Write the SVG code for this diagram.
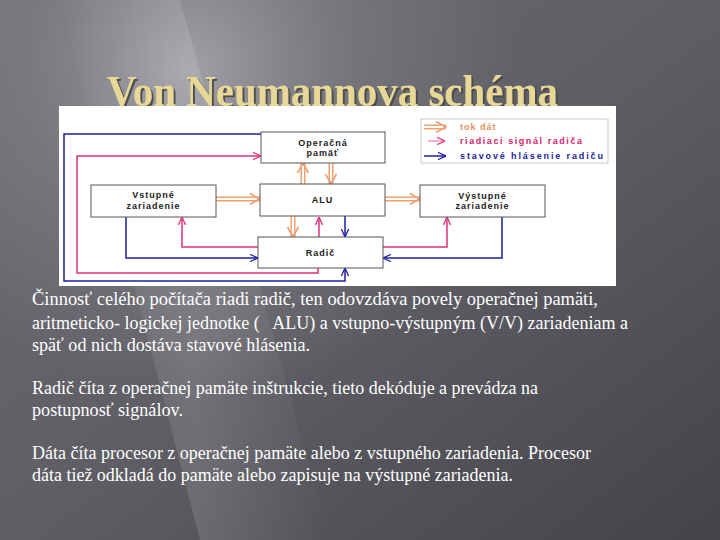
<svg xmlns="http://www.w3.org/2000/svg" width="720" height="540" viewBox="0 0 720 540">
<defs>
<linearGradient id="bg" x1="0" y1="0" x2="1" y2="1">
<stop offset="0" stop-color="#6c6c72"/>
<stop offset="0.5" stop-color="#5e5e64"/>
<stop offset="1" stop-color="#434349"/>
</linearGradient>
<radialGradient id="glow" cx="190" cy="70" r="330" gradientUnits="userSpaceOnUse">
<stop offset="0" stop-color="#b4b4ba" stop-opacity="0.75"/>
<stop offset="0.5" stop-color="#9a9aa0" stop-opacity="0.3"/>
<stop offset="1" stop-color="#9a9aa0" stop-opacity="0"/>
</radialGradient>
<linearGradient id="streak" x1="0" y1="0" x2="1" y2="0">
<stop offset="0" stop-color="#ffffff" stop-opacity="0"/>
<stop offset="0.5" stop-color="#ffffff" stop-opacity="0.12"/>
<stop offset="1" stop-color="#ffffff" stop-opacity="0"/>
</linearGradient>
<filter id="shadow" x="-5%" y="-20%" width="110%" height="140%">
<feDropShadow dx="2" dy="2" stdDeviation="0.6" flood-color="#4a4a44" flood-opacity="0.9"/>
</filter>
<marker id="ap" viewBox="0 0 10 10" refX="10" refY="5" markerWidth="8" markerHeight="8" orient="auto" markerUnits="userSpaceOnUse">
<path d="M0,0.5 L10,5 L0,9.5" fill="none" stroke="#e0307a" stroke-width="1.6"/>
</marker>
<marker id="ab" viewBox="0 0 10 10" refX="10" refY="5" markerWidth="8" markerHeight="8" orient="auto" markerUnits="userSpaceOnUse">
<path d="M0,0.5 L10,5 L0,9.5" fill="none" stroke="#1c1ca8" stroke-width="1.6"/>
</marker>
<marker id="ao" viewBox="0 0 12 12" refX="11" refY="6" markerWidth="12" markerHeight="12" orient="auto" markerUnits="userSpaceOnUse">
<path d="M1,0.5 L11,6 L1,11.5" fill="none" stroke="#f0a070" stroke-width="1.6"/>
</marker>
</defs>
<style>
.box{fill:#ffffff;stroke:#555;stroke-width:1}
.bt{font-family:"Liberation Sans",Arial,sans-serif;font-weight:bold;font-size:9px;letter-spacing:1px;fill:#222;text-anchor:middle}
.pk{fill:none;stroke:#e0307a;stroke-width:1.5;marker-end:url(#ap)}
.bl{fill:none;stroke:#1c1ca8;stroke-width:1.5;marker-end:url(#ab)}
.or{fill:none;stroke:#f0a070;stroke-width:5;marker-end:url(#ao)}
.ow{fill:none;stroke:#ffffff;stroke-width:2}
.lt{font-family:"Liberation Sans",Arial,sans-serif;font-weight:bold;font-size:9px;letter-spacing:1px}
.body{font-family:"Liberation Serif","Times New Roman",serif;font-size:18px;fill:#ffffff;white-space:pre}
</style>
<rect x="0" y="0" width="720" height="540" fill="url(#bg)"/>
<rect x="0" y="0" width="720" height="540" fill="url(#glow)"/>
<polygon points="60,0 180,0 330,540 200,540" fill="url(#streak)"/>
<g id="title">
<text x="107" y="106" font-family="Liberation Serif,'Times New Roman',serif" font-weight="bold" font-size="44" fill="#e8d898" filter="url(#shadow)" textLength="451" lengthAdjust="spacingAndGlyphs">Von Neumannova schéma</text>
</g>
<rect x="59" y="106" width="557" height="180" fill="#ffffff"/>
<g id="legend">
<rect x="421" y="119" width="187" height="44" fill="#ffffff" stroke="#c8c8d0" stroke-width="1"/>
<line x1="424" y1="127" x2="446" y2="127" class="or" stroke-width="4"/>
<line x1="424" y1="127" x2="443" y2="127" class="ow" stroke-width="1.5"/>
<line x1="428" y1="141" x2="445" y2="141" stroke="#f080b0" stroke-width="1.2" marker-end="url(#ap)"/>
<line x1="424" y1="156" x2="446" y2="156" class="bl"/>
<text x="460" y="130" class="lt" fill="#e89060">tok dát</text>
<text x="460" y="144" class="lt" fill="#d8206e" textLength="123">riadiaci signál radiča</text>
<text x="460" y="159" class="lt" fill="#1c1ca0" textLength="144">stavové hlásenie radiču</text>
</g>
<g id="connectors">
<polyline class="pk" points="258,247 182,247 182,217"/>
<polyline class="pk" points="383,247 447,247 447,217"/>
<polyline class="pk" points="319,237 319,217"/>
<polyline class="pk" points="318,268 318,273 77,273 77,156 261,156"/>
<polyline class="bl" points="126,217 126,258 258,258"/>
<polyline class="bl" points="502,217 502,258 383,258"/>
<polyline class="bl" points="345,216 345,237"/>
<polyline class="bl" points="261,134 64,134 64,281 345,281 345,268"/>
<line class="or" x1="303" y1="184" x2="303" y2="163"/>
<line class="ow" x1="303" y1="184" x2="303" y2="166"/>
<line class="or" x1="331" y1="163" x2="331" y2="184"/>
<line class="ow" x1="331" y1="163" x2="331" y2="181"/>
<line class="or" x1="293" y1="216" x2="293" y2="237"/>
<line class="ow" x1="293" y1="216" x2="293" y2="234"/>
<line class="or" x1="216" y1="199" x2="260" y2="199"/>
<line class="ow" x1="216" y1="199" x2="257" y2="199"/>
<line class="or" x1="385" y1="199" x2="420" y2="199"/>
<line class="ow" x1="385" y1="199" x2="417" y2="199"/>
</g>
<g id="operacna">
<rect class="box" x="261" y="132" width="124" height="31"/>
<text class="bt" x="323" y="146">Operačná</text>
<text class="bt" x="323" y="156">pamäť</text>
</g>
<g id="vstupne">
<rect class="box" x="91" y="185" width="125" height="32"/>
<text class="bt" x="153.5" y="198">Vstupné</text>
<text class="bt" x="153.5" y="208.5">zariadenie</text>
</g>
<g id="alu">
<rect class="box" x="260" y="184" width="125" height="32"/>
<text class="bt" x="322.5" y="203">ALU</text>
</g>
<g id="radic">
<rect class="box" x="258" y="237" width="125" height="31"/>
<text class="bt" x="320.5" y="256">Radič</text>
</g>
<g id="vystupne">
<rect class="box" x="420" y="185" width="125" height="32"/>
<text class="bt" x="482.5" y="199">Výstupné</text>
<text class="bt" x="482.5" y="209">zariadenie</text>
</g>
<g id="body">
<text class="body" x="32" y="305" textLength="566" lengthAdjust="spacingAndGlyphs">Činnosť celého počítača riadi radič, ten odovzdáva povely operačnej pamäti,</text>
<text class="body" x="32" y="329" textLength="596" lengthAdjust="spacingAndGlyphs">aritmeticko- logickej jednotke (   ALU) a vstupno-výstupným (V/V) zariadeniam a</text>
<text class="body" x="32" y="351" textLength="278" lengthAdjust="spacingAndGlyphs">späť od nich dostáva stavové hlásenia.</text>
<text class="body" x="32" y="394" textLength="506" lengthAdjust="spacingAndGlyphs">Radič číta z operačnej pamäte inštrukcie, tieto dekóduje a prevádza na</text>
<text class="body" x="32" y="416" textLength="151" lengthAdjust="spacingAndGlyphs">postupnosť signálov.</text>
<text class="body" x="32" y="459" textLength="559" lengthAdjust="spacingAndGlyphs">Dáta číta procesor z operačnej pamäte alebo z vstupného zariadenia. Procesor</text>
<text class="body" x="32" y="481" textLength="481" lengthAdjust="spacingAndGlyphs">dáta tiež odkladá do pamäte alebo zapisuje na výstupné zariadenia.</text>
</g>
</svg>
